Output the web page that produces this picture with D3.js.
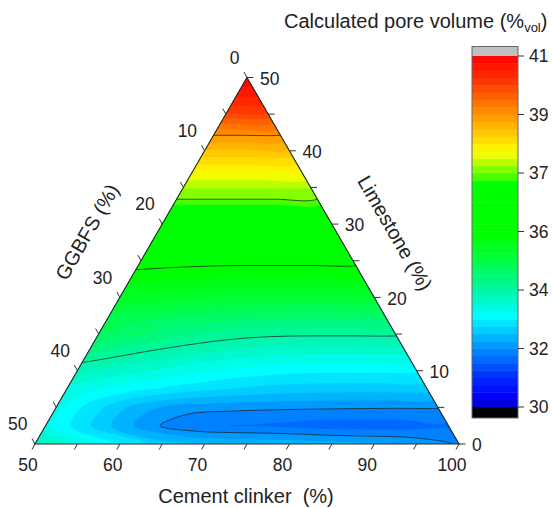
<!DOCTYPE html>
<html><head><meta charset="utf-8">
<script src="https://cdn.jsdelivr.net/npm/d3@7"></script>
<style>
body{margin:0;background:#fff}
svg{display:block}
text{font-family:"Liberation Sans",Arial,sans-serif;fill:#222}
</style>
</head><body>
<svg id="chart" width="552" height="508"></svg>
<script>
// ---------------- data ----------------
const clinkerTicks = [50, 60, 70, 80, 90, 100];
const ggbfsTicks = [0, 10, 20, 30, 40, 50];
const limestoneTicks = [0, 10, 20, 30, 40, 50];
const minorStep = 5;
const colorbarTicks = [30, 32, 34, 36, 37, 39, 41];
const contourLineLevels = [32, 34, 36, 37, 39];
// grid: rows = limestone content (%), columns = GGBFS content 0,5,10,... (%)
const limestoneRows = [0, 2.5, 5, 7.5, 10, 12.5, 15, 17.5, 20, 22.5, 25, 27.5, 30, 32.5, 35, 37.5, 40, 42.5, 45, 47.5, 50];
const ggbfsStep = 5;
const poreVolume = [
  [31.95, 32.2, 32.3, 32.35, 32.4, 32.42, 32.45, 32.6, 33.02, 33.4, 33.8],
  [31.7, 31.62, 31.6, 31.62, 31.7, 31.74, 31.8, 32.05, 32.52, 33.05],
  [32.02, 32.02, 32.03, 32.04, 32.05, 32.07, 32.12, 32.35, 32.8, 33.3],
  [32.6, 32.6, 32.6, 32.62, 32.68, 32.78, 32.92, 33.1, 33.32],
  [33.05, 33.05, 33.05, 33.07, 33.15, 33.28, 33.45, 33.62, 33.8],
  [33.55, 33.55, 33.55, 33.57, 33.65, 33.78, 33.95, 34.15],
  [34.05, 34.05, 34.05, 34.07, 34.15, 34.3, 34.52, 34.77],
  [34.6, 34.6, 34.6, 34.62, 34.68, 34.78, 34.9],
  [35.2, 35.2, 35.2, 35.22, 35.27, 35.35, 35.45],
  [35.72, 35.72, 35.72, 35.73, 35.76, 35.82],
  [36.1, 36.1, 36.1, 36.1, 36.12, 36.15],
  [36.38, 36.38, 36.38, 36.38, 36.4],
  [36.62, 36.62, 36.62, 36.62, 36.62],
  [36.85, 36.85, 36.85, 36.85],
  [37.27, 37.27, 37.27, 37.27],
  [37.85, 37.85, 37.85],
  [38.45, 38.45, 38.45],
  [39.1, 39.1],
  [39.95, 39.95],
  [40.52],
  [40.95]
];
// colour map stops (position along colour bar 0..1)
const cmapPos = [0, 0.034, 0.091, 0.165, 0.262, 0.328, 0.433, 0.496, 0.638, 0.664, 0.726, 0.832, 0.932, 1];
const cmapColors = ["#0000d2", "#0000ff", "#0032ff", "#008cff", "#00ffff", "#00f5aa", "#00ff32", "#00ff00", "#00ff00", "#64ff00", "#ffff00", "#ff9600", "#ff3200", "#ff0000"];

// ---------------- layout ----------------
const svg = d3.select("#chart");
const xScale = d3.scaleLinear().domain([50, 100]).range([35, 459]);
const yScale = d3.scaleLinear().domain([0, 50]).range([444, 77.5]);
const tern = (c, l) => [xScale(c + l / 2), yScale(l)];
const TOP = tern(50, 50), BL = tern(50, 0), BR = tern(100, 0);

// levels: 8 sub-bands per colour bar interval
const levels = [];
for (let k = 0; k < colorbarTicks.length - 1; k++) {
  const a = colorbarTicks[k], b = colorbarTicks[k + 1];
  for (let s = 0; s < 8; s++) levels.push(a + (b - a) * s / 8);
}
levels.push(colorbarTicks[colorbarTicks.length - 1]);
const nBands = levels.length - 1;
const cmap = d3.scaleLinear().domain(cmapPos).range(cmapColors).interpolate(d3.interpolateRgb);
const bandColor = d3.range(nBands).map(k => cmap((k + 0.5) / nBands));

// grid values
const nx = 11, ny = limestoneRows.length;
const values = new Array(nx * ny);
poreVolume.forEach((row, j) => {
  for (let i = 0; i < nx; i++) {
    let v;
    if (i < row.length) v = row[i];
    else if (row.length >= 2) {
      const a = row[row.length - 2], b = row[row.length - 1];
      v = b + (b - a) * (i - row.length + 1);
    } else v = row[0];
    values[j * nx + i] = v;
  }
});
const lStep = limestoneRows[1] - limestoneRows[0];
const toPx = ([x, y]) => {
  const g = (x - 0.5) * ggbfsStep, l = (y - 0.5) * lStep;
  return tern(100 - g - l, l);
};
const ringLine = d3.line().curve(d3.curveCatmullRomClosed.alpha(0.5));
const mpPath = mp => mp.coordinates.map(poly =>
  poly.map(ring => ringLine(ring.slice(0, -1).map(toPx))).join("")).join("");

// clip
svg.append("clipPath").attr("id", "tri").append("path")
  .attr("d", `M${TOP}L${BL}L${BR}Z`);

const plot = svg.append("g").attr("clip-path", "url(#tri)");
const fills = d3.contours().size([nx, ny]).thresholds(levels.slice(0, nBands))(values);
plot.selectAll("path.fill").data(fills).join("path")
  .attr("class", "fill")
  .attr("d", mpPath)
  .attr("fill", (d, i) => bandColor[i])
  .attr("stroke", (d, i) => bandColor[i])
  .attr("stroke-width", 0.3)
  .attr("fill-rule", "evenodd");
const lines = d3.contours().size([nx, ny]).thresholds(contourLineLevels)(values);
plot.selectAll("path.line").data(lines).join("path")
  .attr("class", "line")
  .attr("d", mpPath)
  .attr("fill", "none")
  .attr("stroke", "#1e1e1e")
  .attr("stroke-opacity", 0.8)
  .attr("stroke-width", 0.9);

// triangle outline
svg.append("path").attr("d", `M${TOP}L${BL}L${BR}Z`)
  .attr("fill", "none").attr("stroke", "#2a2a2a").attr("stroke-width", 1.1);

// ticks
const tickG = svg.append("g").attr("stroke", "#333").attr("stroke-width", 1);
const allMinor = d3.range(0, 50 + 0.01, minorStep);
allMinor.forEach(v => {
  const p = tern(50 + v, 0); // clinker
  tickG.append("line").attr("x1", p[0]).attr("y1", p[1]).attr("x2", p[0] - 3).attr("y2", p[1] + 5.5);
  const q = tern(50, 50 - v); // GGBFS
  tickG.append("line").attr("x1", q[0]).attr("y1", q[1]).attr("x2", q[0] - 3).attr("y2", q[1] - 5.5);
  const r = tern(100 - v, v); // limestone
  tickG.append("line").attr("x1", r[0]).attr("y1", r[1]).attr("x2", r[0] + 6.5).attr("y2", r[1]);
});
const fs = 17.5;
clinkerTicks.forEach(c => {
  const p = tern(c, 0);
  svg.append("text").attr("x", p[0] - 7).attr("y", p[1] + 21).attr("dy", "0.35em")
    .attr("text-anchor", "middle").attr("font-size", fs).text(c);
});
ggbfsTicks.forEach(g => {
  const p = tern(50, 50 - g);
  svg.append("text").attr("x", p[0] - 7.5).attr("y", p[1] - 20).attr("dy", "0.35em")
    .attr("text-anchor", "end").attr("font-size", fs).text(g);
});
limestoneTicks.forEach(l => {
  const p = tern(100 - l, l);
  svg.append("text").attr("x", p[0] + 13).attr("y", p[1] + 1).attr("dy", "0.35em")
    .attr("text-anchor", "start").attr("font-size", fs).text(l);
});

// axis titles
svg.append("text").attr("x", 246).attr("y", 503).attr("text-anchor", "middle")
  .attr("font-size", 20).style("white-space", "pre").text("Cement clinker  (%)");
svg.append("text").attr("transform", "translate(87,232) rotate(-60)").attr("dy", "0.35em")
  .attr("text-anchor", "middle").attr("font-size", 20).text("GGBFS (%)");
svg.append("text").attr("transform", "translate(395,233) rotate(60)").attr("dy", "0.35em")
  .attr("text-anchor", "middle").attr("font-size", 20).text("Limestone (%)");

// colour bar
const cbX = 472, cbW = 46;
const cb = d3.scaleLinear().domain(colorbarTicks)
  .range(colorbarTicks.map((d, i) => 407 - i * 58.5));
const cbG = svg.append("g");
d3.range(nBands).forEach(k => {
  const y0 = cb(levels[k + 1]), y1 = cb(levels[k]);
  cbG.append("rect").attr("x", cbX).attr("y", y0).attr("width", cbW).attr("height", y1 - y0 + 0.4)
    .attr("fill", bandColor[k]);
});
cbG.append("rect").attr("x", cbX).attr("y", cb(41) - 9.5).attr("width", cbW).attr("height", 9.5).attr("fill", "#c0c0c0");
cbG.append("rect").attr("x", cbX).attr("y", cb(30)).attr("width", cbW).attr("height", 11).attr("fill", "#000");
cbG.append("rect").attr("x", cbX).attr("y", cb(41) - 9.5).attr("width", cbW).attr("height", cb(30) + 11 - cb(41) + 9.5)
  .attr("fill", "none").attr("stroke", "#666").attr("stroke-width", 1);
colorbarTicks.forEach(v => {
  const y = cb(v);
  cbG.append("line").attr("x1", cbX + cbW).attr("x2", cbX + cbW + 6).attr("y1", y).attr("y2", y)
    .attr("stroke", "#333");
  cbG.append("text").attr("x", cbX + cbW + 11).attr("y", y).attr("dy", "0.35em")
    .attr("font-size", fs).text(v);
});
const title = svg.append("text").attr("x", 284).attr("y", 28).attr("font-size", 20);
title.append("tspan").text("Calculated pore volume (%");
title.append("tspan").attr("font-size", 13).attr("dy", 4).text("vol");
title.append("tspan").attr("dy", -4).text(")");
</script>
</body></html>
